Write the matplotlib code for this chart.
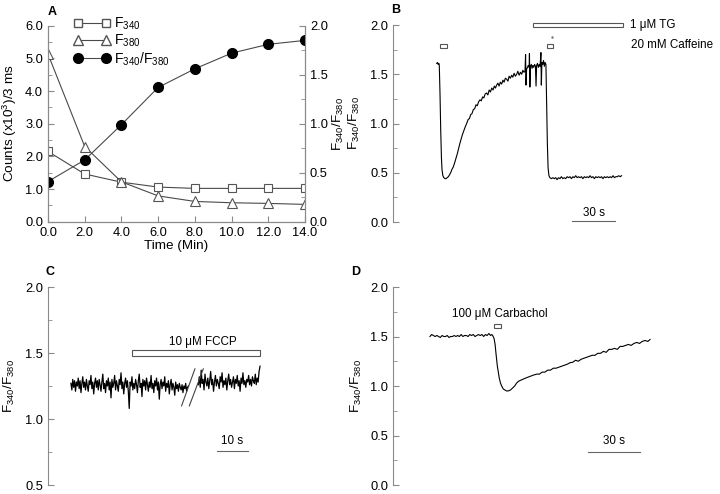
"""
Recreates the four-panel fura-2 ratio figure (panels A-D).
"""

import numpy as np
import matplotlib
matplotlib.use("Agg")
import matplotlib.pyplot as plt
import matplotlib.ticker as ticker
from matplotlib.patches import Rectangle
from matplotlib.lines import Line2D

plt.rcParams["font.family"] = ["Liberation Sans", "DejaVu Sans"]
plt.rcParams["mathtext.fontset"] = "custom"
plt.rcParams["mathtext.rm"] = "Liberation Sans"
plt.rcParams["mathtext.it"] = "Liberation Sans:italic"
plt.rcParams["mathtext.bf"] = "Liberation Sans:bold"
plt.rcParams["font.size"] = 9.3
plt.rcParams["axes.labelsize"] = 9.7

# ---- panel A: calibration time course ----
a_time = [0.0, 2.0, 4.0, 6.0, 8.0, 10.0, 12.0, 14.0]
a_f340 = [2.15, 1.46, 1.21, 1.06, 1.02, 1.02, 1.02, 1.02]
a_f380 = [5.13, 2.30, 1.22, 0.79, 0.62, 0.58, 0.56, 0.53]
a_ratio = [0.41, 0.63, 0.99, 1.37, 1.56, 1.72, 1.81, 1.85]

# ---- panel B: caffeine / TG trace (time in s) ----
b_time = [30.5, 31.0, 31.5, 32.0, 32.3, 32.8, 33.3, 33.8, 34.2, 34.8,
          35.5, 36.3, 37.0, 37.8, 38.6, 39.5, 40.5, 41.3, 42.1, 43.0,
          44.0, 45.0, 46.0, 46.7, 47.5, 48.5, 49.5, 50.5, 51.4, 52.4,
          53.3, 54.2, 55.1, 56.0, 57.0, 57.9, 58.8, 59.7, 60.7, 61.6,
          62.5, 63.4, 64.3, 65.3, 66.2, 67.1, 68.0, 68.9, 69.8, 70.7,
          71.5, 72.3, 73.2, 74.0, 74.9, 75.8, 76.7, 77.5, 78.4, 79.3,
          80.2, 81.0, 81.9, 82.8, 83.6, 84.5, 85.4, 86.3, 87.1, 88.0,
          88.9, 89.8, 90.6, 91.4, 92.1, 92.5, 92.8, 93.2, 93.8, 94.4,
          95.0, 95.2, 95.5, 95.9, 96.5, 97.0, 97.6, 98.2, 98.8, 99.4,
          99.8, 100.2, 100.8, 101.4, 102.0, 102.6, 103.2, 103.5, 103.9, 104.5,
          105.0, 105.6, 106.1, 106.7, 107.2, 107.7, 108.2, 108.8, 109.5, 110.5,
          111.5, 112.5, 113.5, 114.5, 115.5, 116.5, 117.5, 118.5, 119.5, 120.5,
          121.5, 122.5, 123.5, 124.5, 125.5, 126.5, 127.5, 128.5, 129.5, 130.5,
          131.5, 132.5, 133.5, 134.5, 135.5, 136.5, 137.5, 138.5, 139.5, 140.5,
          141.5, 142.5, 143.5, 144.5, 145.5, 146.5, 147.5, 148.5, 149.5, 150.5,
          151.5, 152.5, 153.5, 154.5, 155.5, 156.5, 157.5, 158.5, 159.5]
b_ratio = [1.61, 1.62, 1.60, 1.61, 1.59, 1.30, 0.93, 0.65, 0.53, 0.47,
           0.45, 0.44, 0.44, 0.45, 0.46, 0.48, 0.51, 0.54, 0.56, 0.60,
           0.65, 0.70, 0.76, 0.80, 0.84, 0.89, 0.93, 0.97, 1.00, 1.04,
           1.05, 1.09, 1.10, 1.14, 1.15, 1.19, 1.18, 1.22, 1.24, 1.23,
           1.27, 1.26, 1.30, 1.31, 1.29, 1.34, 1.32, 1.36, 1.34, 1.38,
           1.36, 1.39, 1.41, 1.38, 1.42, 1.40, 1.44, 1.42, 1.46, 1.45,
           1.43, 1.48, 1.46, 1.49, 1.47, 1.51, 1.48, 1.50, 1.53, 1.49,
           1.52, 1.50, 1.54, 1.52, 1.53, 1.70, 1.39, 1.55, 1.57, 1.59,
           1.57, 1.71, 1.37, 1.58, 1.60, 1.56, 1.59, 1.57, 1.60, 1.58,
           1.38, 1.59, 1.61, 1.57, 1.60, 1.58, 1.72, 1.39, 1.62, 1.60,
           1.64, 1.58, 1.62, 1.60, 1.20, 0.80, 0.55, 0.47, 0.45, 0.44,
           0.45, 0.44, 0.45, 0.43, 0.45, 0.44, 0.46, 0.44, 0.45, 0.44,
           0.46, 0.45, 0.46, 0.44, 0.46, 0.45, 0.47, 0.45, 0.46, 0.45,
           0.46, 0.44, 0.46, 0.45, 0.46, 0.45, 0.47, 0.45, 0.46, 0.44,
           0.46, 0.45, 0.46, 0.45, 0.46, 0.44, 0.46, 0.45, 0.46, 0.45,
           0.46, 0.45, 0.47, 0.45, 0.46, 0.46, 0.47, 0.46, 0.47]
b_caffeine_bars = [(32.8, 37.5), (107.2, 111.9)]
b_tg_bar = (97.4, 160.2)

# ---- panel C: FCCP trace, sampled evenly within each segment ----
c_seg1_span = (7.4, 45.3)
c_seg1 = [1.27, 1.22, 1.30, 1.24, 1.29, 1.21, 1.28, 1.25, 1.31, 1.23,
          1.29, 1.20, 1.27, 1.32, 1.24, 1.28, 1.22, 1.30, 1.25, 1.21,
          1.29, 1.26, 1.33, 1.23, 1.28, 1.19, 1.27, 1.31, 1.24, 1.29,
          1.22, 1.30, 1.26, 1.21, 1.28, 1.34, 1.23, 1.27, 1.20, 1.29,
          1.25, 1.31, 1.22, 1.28, 1.16, 1.30, 1.24, 1.27, 1.33, 1.22,
          1.29, 1.25, 1.21, 1.30, 1.26, 1.35, 1.23, 1.28, 1.19, 1.27,
          1.31, 1.24, 1.29, 1.21, 1.08, 1.28, 1.25, 1.32, 1.22, 1.27,
          1.23, 1.30, 1.26, 1.20, 1.29, 1.34, 1.24, 1.27, 1.17, 1.30,
          1.25, 1.29, 1.22, 1.31, 1.26, 1.21, 1.28, 1.24, 1.33, 1.23,
          1.27, 1.20, 1.29, 1.25, 1.31, 1.22, 1.28, 1.15, 1.26, 1.30,
          1.23, 1.28, 1.25, 1.32, 1.21, 1.27, 1.24, 1.29, 1.19, 1.26,
          1.30, 1.22, 1.27, 1.24, 1.18, 1.28, 1.23, 1.26, 1.21, 1.27,
          1.24, 1.22, 1.26, 1.20, 1.25, 1.23, 1.27, 1.21, 1.24, 1.25]
c_seg2_span = (48.5, 68.4)
c_seg2 = [1.26, 1.32, 1.24, 1.37, 1.27, 1.30, 1.22, 1.34, 1.28, 1.25,
          1.31, 1.23, 1.29, 1.36, 1.26, 1.30, 1.21, 1.28, 1.33, 1.25,
          1.30, 1.27, 1.23, 1.32, 1.28, 1.35, 1.24, 1.29, 1.26, 1.31,
          1.22, 1.29, 1.34, 1.26, 1.30, 1.24, 1.28, 1.32, 1.23, 1.30,
          1.27, 1.33, 1.25, 1.29, 1.21, 1.31, 1.27, 1.35, 1.26, 1.29,
          1.24, 1.30, 1.28, 1.33, 1.26, 1.30, 1.25, 1.32, 1.29, 1.27,
          1.34, 1.26, 1.31, 1.28, 1.36, 1.40]
c_fccp_bar = (27.0, 68.4)
c_break_t = [(43.1, 47.4), (45.6, 50.1)]
c_break_v = [(1.10, 1.38), (1.10, 1.38)]

# ---- panel D: carbachol trace ----
d_time = [21.3, 22.3, 23.3, 24.3, 25.3, 26.3, 27.3, 28.3, 29.3, 30.3,
          31.3, 32.3, 33.3, 34.3, 35.3, 36.3, 37.3, 38.3, 39.3, 40.3,
          41.3, 42.3, 43.3, 44.3, 45.3, 46.3, 47.3, 48.3, 49.3, 50.3,
          51.3, 52.3, 53.3, 54.3, 55.3, 56.3, 57.0, 57.5, 58.3, 58.9,
          59.4, 60.2, 61.3, 62.0, 62.7, 63.6, 64.5, 65.5, 66.5, 67.8,
          69.0, 70.2, 71.3, 72.6, 73.9, 75.2, 76.5, 78.0, 79.5, 81.0,
          82.9, 84.5, 86.0, 87.6, 89.2, 90.8, 92.5, 94.1, 95.7, 97.3,
          98.9, 100.5, 102.1, 103.7, 105.3, 106.9, 108.5, 110.1, 111.7, 113.3,
          114.9, 116.5, 118.1, 119.7, 121.4, 123.0, 124.6, 126.2, 127.8, 129.4,
          131.0, 132.6, 134.2, 135.8, 137.4, 139.0, 140.6, 142.2, 143.8, 145.4,
          147.0, 148.3]
d_ratio = [1.50, 1.52, 1.51, 1.50, 1.51, 1.50, 1.49, 1.51, 1.50, 1.50,
           1.51, 1.49, 1.50, 1.50, 1.51, 1.50, 1.51, 1.50, 1.52, 1.50,
           1.51, 1.51, 1.50, 1.52, 1.51, 1.52, 1.50, 1.51, 1.52, 1.51,
           1.52, 1.50, 1.52, 1.51, 1.53, 1.51, 1.52, 1.51, 1.48, 1.42,
           1.33, 1.20, 1.08, 1.03, 1.00, 0.97, 0.96, 0.95, 0.95, 0.96,
           0.98, 1.00, 1.03, 1.05, 1.06, 1.07, 1.08, 1.09, 1.10, 1.11,
           1.12, 1.12, 1.14, 1.14, 1.16, 1.16, 1.18, 1.18, 1.19, 1.20,
           1.21, 1.22, 1.235, 1.24, 1.26, 1.25, 1.27, 1.28, 1.29, 1.30,
           1.31, 1.31, 1.33, 1.33, 1.35, 1.34, 1.37, 1.37, 1.38, 1.37,
           1.40, 1.40, 1.41, 1.42, 1.41, 1.43, 1.44, 1.43, 1.45, 1.46,
           1.45, 1.47]
d_carbachol_bar = (58.3, 62.1)

RATIO_LABEL = "F$_{340}$/F$_{380}$"
SPINE = "#8a8a8a"
LINE = "#4a4a4a"
NOTE_SIZE = 8.4
W, H = 720, 494

fig = plt.figure(figsize=(W / 100, H / 100), dpi=100)


def px_axes(left, top, right, bottom):
    """Add an axes placed by pixel edges (origin top-left)."""
    return fig.add_axes([left / W, 1 - bottom / H, (right - left) / W, (bottom - top) / H])


def style_trace_axes(ax, ylim, xlim):
    for side in ("top", "right", "bottom"):
        ax.spines[side].set_visible(False)
    ax.spines["left"].set_color(SPINE)
    ax.set_xticks([])
    ax.set_xlim(*xlim)
    ax.set_ylim(*ylim)
    ax.yaxis.set_major_locator(ticker.MultipleLocator(0.5))
    ax.yaxis.set_minor_locator(ticker.MultipleLocator(0.25))
    ax.yaxis.set_major_formatter(ticker.FormatStrFormatter("%.1f"))
    ax.tick_params(axis="y", which="both", direction="in", color=SPINE)
    ax.tick_params(axis="y", which="major", length=4)
    ax.tick_params(axis="y", which="minor", length=3)


def bar(ax, span, lo, hi):
    ax.add_patch(Rectangle((span[0], lo), span[1] - span[0], hi - lo,
                           facecolor="white", edgecolor="#555555", lw=0.8, clip_on=False))


# ---------------- panel A ----------------
ax_a = px_axes(48, 25.7, 305, 221.7)
ax_r = ax_a.twinx()
ax_a.plot(a_time, a_f340, "-", color=LINE, lw=0.8, marker="s", ms=5.5,
          mfc="white", mec="#555555", mew=0.8)
ax_a.plot(a_time, a_f380, "-", color=LINE, lw=0.8, marker="^", ms=6.5,
          mfc="white", mec="#555555", mew=0.8)
ax_r.plot(a_time, a_ratio, "-", color=LINE, lw=0.8, marker="o", ms=7,
          mfc="black", mec="black")
ax_a.set_xlim(0, 14)
ax_a.set_ylim(0, 6)
ax_r.set_ylim(0, 2)
ax_a.spines["top"].set_visible(False)
ax_r.spines["top"].set_visible(False)
for ax in (ax_a, ax_r):
    for side in ("left", "right", "bottom"):
        ax.spines[side].set_color(SPINE)
ax_a.xaxis.set_major_locator(ticker.MultipleLocator(2))
ax_a.xaxis.set_major_formatter(ticker.FormatStrFormatter("%.1f"))
ax_a.yaxis.set_major_locator(ticker.MultipleLocator(1))
ax_a.yaxis.set_minor_locator(ticker.MultipleLocator(0.5))
ax_a.yaxis.set_major_formatter(ticker.FormatStrFormatter("%.1f"))
ax_r.yaxis.set_major_locator(ticker.MultipleLocator(0.5))
ax_r.yaxis.set_minor_locator(ticker.MultipleLocator(0.25))
ax_r.yaxis.set_major_formatter(ticker.FormatStrFormatter("%.1f"))
for ax in (ax_a, ax_r):
    ax.tick_params(which="both", direction="in", color=SPINE)
    ax.tick_params(which="major", length=4)
    ax.tick_params(which="minor", length=3)
ax_a.set_xlabel("Time (Min)", labelpad=1)
ax_a.set_ylabel("Counts (x10$^3$)/3 ms")
ax_a.yaxis.set_label_coords(-0.112, 0.5)
ax_r.set_ylabel(RATIO_LABEL)
ax_r.yaxis.set_label_coords(1.100, 0.5)

handles = [
    Line2D([], [], color=LINE, lw=0.8, marker="s", ms=5.5, mfc="white", mec="#555555"),
    Line2D([], [], color=LINE, lw=0.8, marker="^", ms=6.5, mfc="white", mec="#555555"),
    Line2D([], [], color=LINE, lw=0.8, marker="o", ms=7, mfc="black", mec="black"),
]
ax_a.legend(handles, ["F$_{340}$", "F$_{380}$", RATIO_LABEL], loc="upper left",
            bbox_to_anchor=(0.075, 1.085), frameon=False, numpoints=2,
            handlelength=2.6, handletextpad=0.25, labelspacing=0.05, borderpad=0,
            fontsize=10)

# ---------------- panel B ----------------
ax_b = px_axes(393, 25, 700, 222)
style_trace_axes(ax_b, (0, 2), (0, 214.2))
ax_b.plot(b_time, b_ratio, color="black", lw=0.8)
bar(ax_b, b_tg_bar, 1.98, 2.02)
for span in b_caffeine_bars:
    bar(ax_b, span, 1.77, 1.81)
ax_b.plot([110.7], [1.875], marker=".", ms=1.5, color="#777777")
ax_b.text(165.3, 2.0, "1 \u03bcM TG", va="center", ha="left", fontsize=NOTE_SIZE)
ax_b.text(165.8, 1.80, "20 mM Caffeine", va="center", ha="left", fontsize=NOTE_SIZE)
ax_b.plot([124.9, 154.9], [0.01, 0.01], color="#666666", lw=0.8, clip_on=False)
ax_b.text(139.9, 0.09, "30 s", ha="center", va="center", fontsize=NOTE_SIZE)
ax_b.set_ylabel(RATIO_LABEL)
ax_b.yaxis.set_label_coords(-0.102, 0.5)

# ---------------- panel C ----------------
ax_c = px_axes(48, 287, 340, 485)
style_trace_axes(ax_c, (0.5, 2.0), (0, 94.2))
t1 = np.linspace(*c_seg1_span, len(c_seg1))
t2 = np.linspace(*c_seg2_span, len(c_seg2))
ax_c.plot(t1, c_seg1, color="black", lw=0.9)
ax_c.plot(t2, c_seg2, color="black", lw=0.9)
for bt, bv in zip(c_break_t, c_break_v):
    ax_c.plot(bt, bv, color="#444444", lw=0.8)
bar(ax_c, c_fccp_bar, 1.48, 1.52)
ax_c.text(50.1, 1.585, "10 \u03bcM FCCP", ha="center", va="center", fontsize=NOTE_SIZE)
ax_c.plot([54.5, 64.5], [0.76, 0.76], color="#666666", lw=0.8)
ax_c.text(59.5, 0.83, "10 s", ha="center", va="center", fontsize=NOTE_SIZE)
ax_c.set_ylabel(RATIO_LABEL)
ax_c.yaxis.set_label_coords(-0.106, 0.5)

# ---------------- panel D ----------------
ax_d = px_axes(393, 287, 700, 485)
style_trace_axes(ax_d, (0, 2), (0, 177.1))
ax_d.plot(d_time, d_ratio, color="black", lw=0.8)
bar(ax_d, d_carbachol_bar, 1.585, 1.625)
ax_d.text(61.9, 1.73, "100 \u03bcM Carbachol", ha="center", va="center", fontsize=NOTE_SIZE)
ax_d.plot([112.5, 142.5], [0.333, 0.333], color="#666666", lw=0.8)
ax_d.text(127.5, 0.444, "30 s", ha="center", va="center", fontsize=NOTE_SIZE)
ax_d.set_ylabel(RATIO_LABEL)
ax_d.yaxis.set_label_coords(-0.094, 0.5)

# panel letters
for letter, x, y in (("A", 52, 12), ("B", 396, 10), ("C", 50, 272), ("D", 356, 272)):
    fig.text(x / W, 1 - y / H, letter, fontweight="bold", fontsize=9,
             ha="center", va="center")

fig.savefig("out.png", dpi=100)
